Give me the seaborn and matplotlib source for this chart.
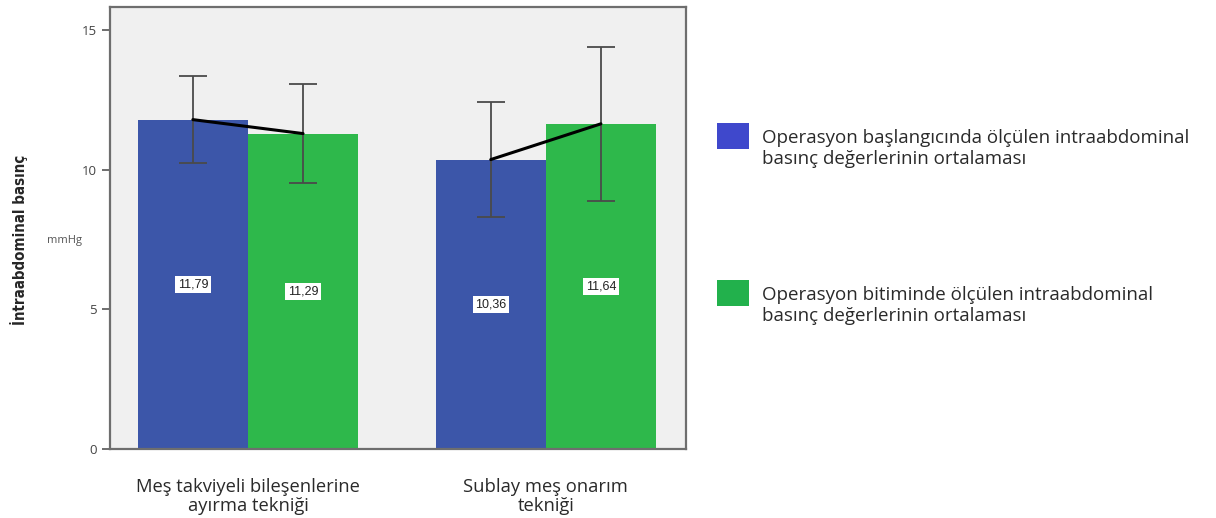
import matplotlib
matplotlib.use("Agg")
import matplotlib.pyplot as plt
from matplotlib.patches import Patch
from matplotlib.transforms import ScaledTranslation
import seaborn as sns
import pandas as pd
import numpy as np

categories = ["Meş takviyeli bileşenlerine\nayırma tekniği", "Sublay meş onarım\ntekniği"]
series = ["Operasyon başlangıcında ölçülen intraabdominal\nbasınç değerlerinin ortalaması",
          "Operasyon bitiminde ölçülen intraabdominal\nbasınç değerlerinin ortalaması"]
start_means = [11.79, 10.36]
end_means = [11.29, 11.64]
start_err = [1.57, 2.05]
end_err = [1.77, 2.75]

bar_colors = ["#3C56A9", "#2EB84B"]
legend_colors = ["#3F48CC", "#22B14C"]

df = pd.DataFrame({
    "cat": categories * 2,
    "series": [series[0]] * 2 + [series[1]] * 2,
    "value": start_means + end_means,
})

sns.set_style("white")
plt.rcParams["font.family"] = ["Open Sans", "DejaVu Sans"]

fig = plt.figure(figsize=(12.16, 5.18), dpi=100)
ax = fig.add_axes([0.0905, 0.133, 0.4735, 0.8535])
ax.set_facecolor("#F0F0F0")

sns.barplot(data=df, x="cat", y="value", hue="series", order=categories,
            hue_order=series, palette=bar_colors, width=0.74, gap=0,
            errorbar=None, ax=ax, legend=False, saturation=1, linewidth=0)

bar_containers = list(ax.containers)
errs = [start_err, end_err]
means = [start_means, end_means]
centers = {}
for si, cont in enumerate(bar_containers):
    ax.bar_label(cont, labels=[f"{v:.2f}".replace(".", ",") for v in means[si]],
                 label_type="center", fontsize=9, color="#222222",
                 family=["Liberation Sans", "DejaVu Sans"],
                 bbox=dict(facecolor="white", edgecolor="none", pad=1.8))
    for ci, p in enumerate(cont.patches):
        x = p.get_x() + p.get_width() / 2
        centers[(si, ci)] = x
        ax.errorbar(x, means[si][ci], yerr=errs[si][ci], color="#4A4A4A",
                    elinewidth=1.3, capsize=10, capthick=1.3, zorder=3)

for ci in range(len(categories)):
    ax.plot([centers[(0, ci)], centers[(1, ci)]],
            [start_means[ci], end_means[ci]], color="black", lw=2.2, zorder=4)

ax.set_ylim(0, 15.82)
ax.set_xlim(-0.463, 1.47)
ax.set_yticks([0, 5, 10, 15])
ax.tick_params(axis="y", length=6, width=1.2, color="#555555", labelsize=9.5,
               labelcolor="#444444", left=True)
ax.tick_params(axis="x", length=0, labelsize=13.2, labelcolor="#2A2A2A", pad=21)
for lbl in ax.get_xticklabels():
    lbl.set_linespacing(1.08)
for s in ax.spines.values():
    s.set_color("#6E6E6E")
    s.set_linewidth(1.6)
ax.set_xlabel("")
ax.set_ylabel("")

fig.text(0.016, 0.537, "İntraabdominal basınç", rotation=90, ha="center", va="center",
         fontsize=10.8, fontweight="bold", fontstretch="condensed",
         family=["DejaVu Sans"])
fig.text(0.053, 0.535, "mmHg", ha="center", va="center", fontsize=8, color="#555555")

handles = [Patch(facecolor=c, edgecolor="none") for c in legend_colors]
leg = fig.legend(handles, series, loc="upper left", bbox_to_anchor=(0.5755, 0.81),
                 frameon=False, fontsize=13.5, handlelength=1.75, handleheight=1.75,
                 labelspacing=6.3, handletextpad=0.65, labelcolor="#2A2A2A")
shift = ScaledTranslation(0, -0.14, fig.dpi_scale_trans)
for t in leg.get_texts():
    t.set_transform(t.get_transform() + shift)

fig.savefig("out.png", dpi=100)
